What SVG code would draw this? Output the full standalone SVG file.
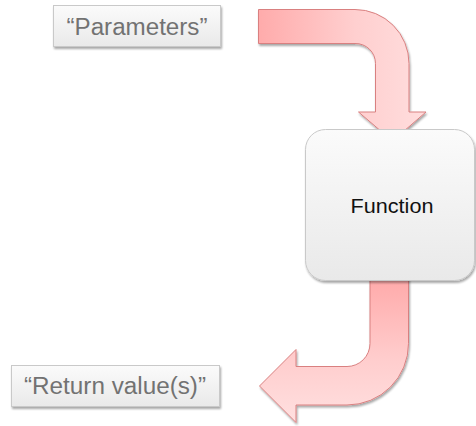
<svg xmlns="http://www.w3.org/2000/svg" width="476" height="426" viewBox="0 0 476 426">
  <defs>
    <linearGradient id="boxFill" x1="0" y1="0" x2="0" y2="1">
      <stop offset="0" stop-color="#fbfbfb"/>
      <stop offset="1" stop-color="#e9e9e9"/>
    </linearGradient>
    <linearGradient id="inFill" gradientUnits="userSpaceOnUse" x1="258" y1="0" x2="420" y2="0">
      <stop offset="0" stop-color="#ffabab"/>
      <stop offset="0.6" stop-color="#ffcfcf"/>
      <stop offset="1" stop-color="#ffdcdc"/>
    </linearGradient>
    <linearGradient id="outFill" gradientUnits="userSpaceOnUse" x1="0" y1="281" x2="0" y2="423">
      <stop offset="0" stop-color="#ffabab"/>
      <stop offset="0.55" stop-color="#ffcdcd"/>
      <stop offset="1" stop-color="#ffe0e0"/>
    </linearGradient>
    <filter id="shadow" x="-10%" y="-10%" width="125%" height="135%">
      <feGaussianBlur in="SourceAlpha" stdDeviation="1.2"/>
      <feOffset dx="0.5" dy="2" result="b"/>
      <feComponentTransfer><feFuncA type="linear" slope="0.35"/></feComponentTransfer>
      <feMerge><feMergeNode/><feMergeNode in="SourceGraphic"/></feMerge>
    </filter>
  </defs>
  <style>
    .label { fill: url(#boxFill); stroke: #c9c9c9; stroke-width: 1; }
    .quote { font-family: "Liberation Sans", Arial, sans-serif; font-size: 23px; fill: #727272; }
    .fn { font-family: "Liberation Sans", Arial, sans-serif; font-size: 21px; fill: #111; }
    .arrow { stroke: #d98080; stroke-width: 1; stroke-linejoin: miter; }
  </style>

  <!-- bent arrows -->
  <g id="connectors">
    <path class="arrow" fill="url(#inFill)" filter="url(#shadow)"
          d="M258.5 9.5 H355 A54 54 0 0 1 409 63.5 V112 H426 L392.5 141 L358.5 112 H375.5 V63.5 A20 20 0 0 0 355 43.5 H258.5 Z"/>
    <path class="arrow" fill="url(#outFill)" filter="url(#shadow)"
          d="M408.5 275 V343.5 A61.5 61.5 0 0 1 347 405 H296 V422.5 L259.5 386 L296 349.5 V366.5 H347 A23 23 0 0 0 370 343.5 V275 Z"/>
  </g>

  <g id="parameters">
    <rect class="label" x="53.5" y="5.5" width="167" height="41" filter="url(#shadow)"/>
    <text class="quote" x="137" y="34.5" text-anchor="middle" textLength="141" lengthAdjust="spacingAndGlyphs">“Parameters”</text>
  </g>

  <g id="function">
    <rect class="label" x="305.5" y="129.5" width="169" height="151" rx="20" ry="20" filter="url(#shadow)"/>
    <text class="fn" x="392" y="213" text-anchor="middle" textLength="83" lengthAdjust="spacingAndGlyphs">Function</text>
  </g>

  <g id="return-values">
    <rect class="label" x="11.5" y="365.5" width="208" height="41" filter="url(#shadow)"/>
    <text class="quote" x="115" y="393.5" text-anchor="middle" textLength="182" lengthAdjust="spacingAndGlyphs">“Return value(s)”</text>
  </g>
</svg>
